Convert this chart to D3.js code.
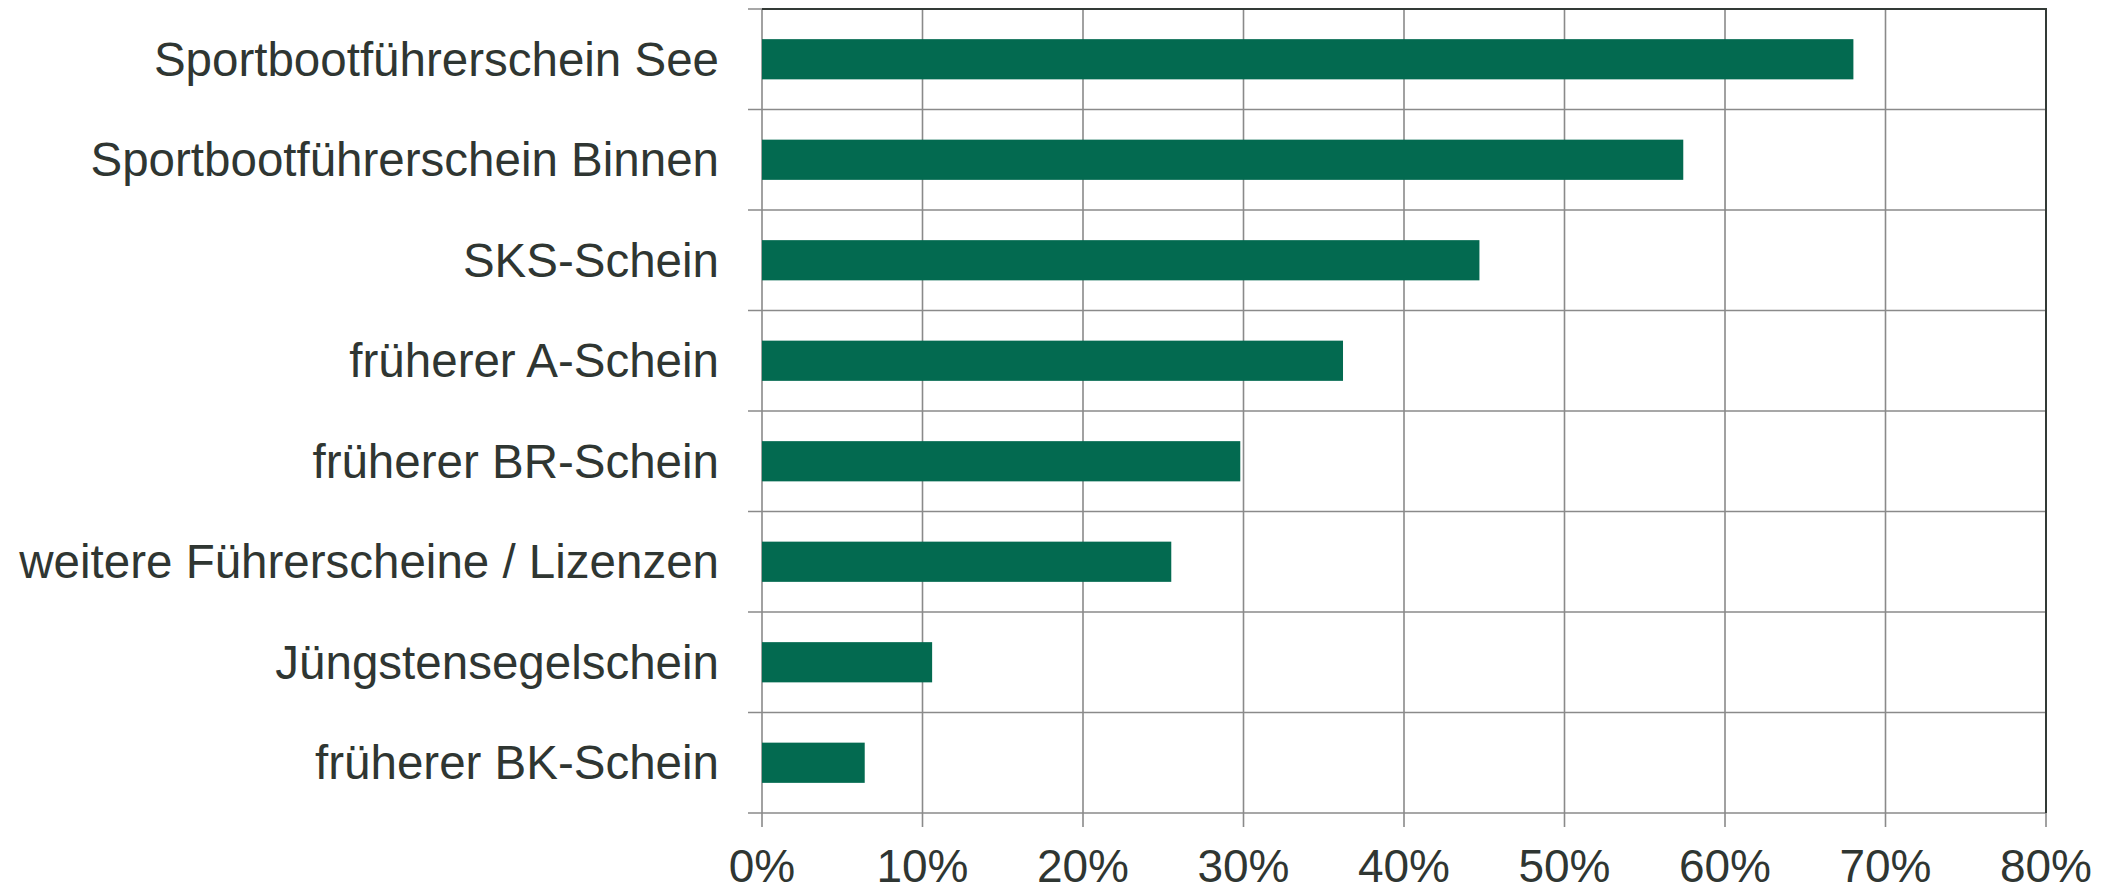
<!DOCTYPE html>
<html>
<head>
<meta charset="utf-8">
<script src="https://cdn.jsdelivr.net/npm/d3@7"></script>
<style>
  html, body { margin: 0; padding: 0; background: #ffffff; }
  svg { display: block; }
  text { font-family: "Liberation Sans", Arial, sans-serif; }
</style>
</head>
<body>
<svg id="chart" width="2114" height="891"></svg>
<script>
const categories = [
  "Sportbootführerschein See",
  "Sportbootführerschein Binnen",
  "SKS-Schein",
  "früherer A-Schein",
  "früherer BR-Schein",
  "weitere Führerscheine / Lizenzen",
  "Jüngstensegelschein",
  "früherer BK-Schein"
];
const values = [68.0, 57.4, 44.7, 36.2, 29.8, 25.5, 10.6, 6.4];
const xTicks = [0, 10, 20, 30, 40, 50, 60, 70, 80];
const xTickLabels = ["0%", "10%", "20%", "30%", "40%", "50%", "60%", "70%", "80%"];

(function () {
const svg = d3.select("#chart");
const mLeft = 762, mRight = 2046, mTop = 9, mBottom = 813;
const gridColor = "#8a8a8a";
const darkColor = "#333a36";
const textColor = "#2f3632";
const barColor = "#036a50";

const x = d3.scaleLinear().domain([0, 80]).range([mLeft, mRight]);
const y = d3.scaleBand().domain(categories).range([mTop, mBottom]).paddingInner(0.6).paddingOuter(0.3);

// vertical gridlines + bottom ticks
svg.append("g").selectAll("line").data(xTicks).join("line")
  .attr("x1", d => x(d)).attr("x2", d => x(d))
  .attr("y1", mTop).attr("y2", mBottom + 14)
  .attr("stroke", gridColor).attr("stroke-width", 1.6);

// horizontal band separators + left ticks
const step = y.step();
const seps = d3.range(categories.length + 1).map(i => mTop + i * step);
svg.append("g").selectAll("line").data(seps).join("line")
  .attr("x1", mLeft - 14).attr("x2", mRight)
  .attr("y1", d => d).attr("y2", d => d)
  .attr("stroke", gridColor).attr("stroke-width", 1.6);

// dark top and right border
svg.append("line").attr("x1", mLeft).attr("x2", mRight + 1).attr("y1", mTop).attr("y2", mTop)
  .attr("stroke", darkColor).attr("stroke-width", 2);
svg.append("line").attr("x1", mRight).attr("x2", mRight).attr("y1", mTop).attr("y2", mBottom)
  .attr("stroke", darkColor).attr("stroke-width", 2);

// bars
svg.append("g").selectAll("rect").data(values).join("rect")
  .attr("x", x(0))
  .attr("y", (d, i) => y(categories[i]))
  .attr("width", d => x(d) - x(0))
  .attr("height", y.bandwidth())
  .attr("fill", barColor);

// category labels
svg.append("g").selectAll("text").data(categories).join("text")
  .attr("x", mLeft - 43)
  .attr("y", d => y(d) + y.bandwidth() / 2)
  .attr("dy", "0.35em")
  .attr("text-anchor", "end")
  .attr("font-size", 47.5)
  .attr("fill", textColor)
  .text(d => d);

// x tick labels
svg.append("g").selectAll("text").data(xTicks).join("text")
  .attr("x", d => x(d))
  .attr("y", 882)
  .attr("text-anchor", "middle")
  .attr("font-size", 46)
  .attr("fill", textColor)
  .text((d, i) => xTickLabels[i]);
})();
</script>
</body>
</html>
